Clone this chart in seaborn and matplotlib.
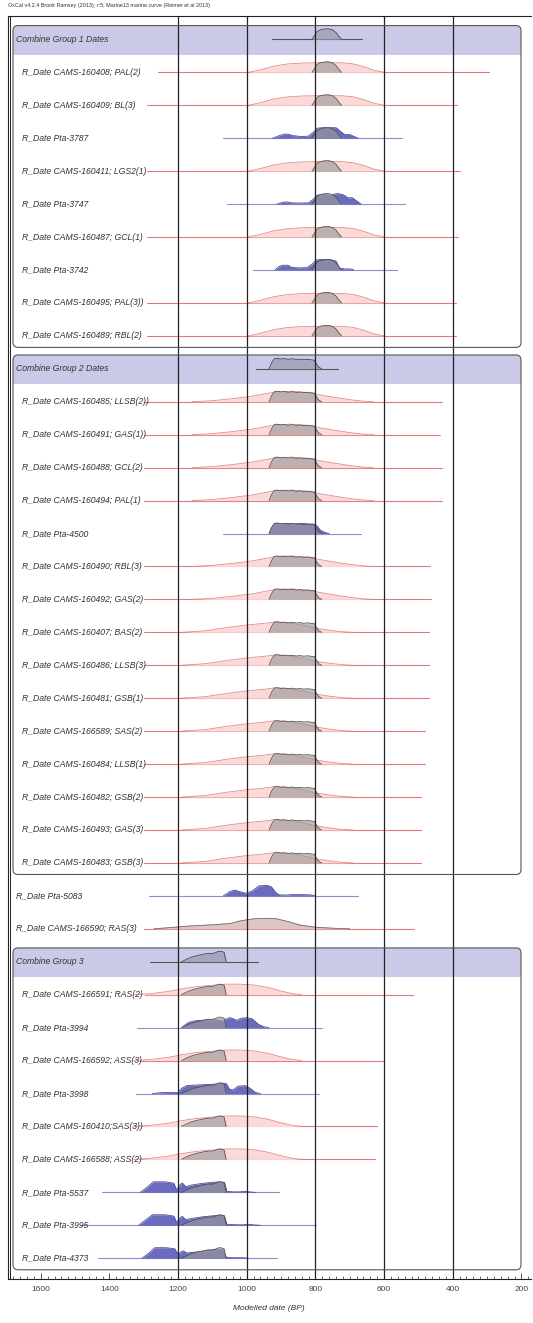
import numpy as np
import matplotlib.pyplot as plt
import seaborn as sns
from matplotlib.patches import FancyBboxPatch, Rectangle
from matplotlib.ticker import MultipleLocator
from matplotlib.transforms import IdentityTransform, blended_transform_factory

# ---- rows of the multiplot (top to bottom) ----
labels = [
    "Combine Group 1 Dates", "R_Date CAMS-160408; PAL(2)", "R_Date CAMS-160409; BL(3)",
    "R_Date Pta-3787", "R_Date CAMS-160411; LGS2(1)", "R_Date Pta-3747",
    "R_Date CAMS-160487; GCL(1)", "R_Date Pta-3742", "R_Date CAMS-160495; PAL(3))",
    "R_Date CAMS-160489; RBL(2)",
    "Combine Group 2 Dates", "R_Date CAMS-160485; LLSB(2))", "R_Date CAMS-160491; GAS(1))",
    "R_Date CAMS-160488; GCL(2)", "R_Date CAMS-160494; PAL(1)", "R_Date Pta-4500",
    "R_Date CAMS-160490; RBL(3)", "R_Date CAMS-160492; GAS(2)", "R_Date CAMS-160407; BAS(2)",
    "R_Date CAMS-160486; LLSB(3)", "R_Date CAMS-160481; GSB(1)", "R_Date CAMS-166589; SAS(2)",
    "R_Date CAMS-160484; LLSB(1)", "R_Date CAMS-160482; GSB(2)", "R_Date CAMS-160493; GAS(3)",
    "R_Date CAMS-160483; GSB(3)",
    "R_Date Pta-5083", "R_Date CAMS-166590; RAS(3)",
    "Combine Group 3", "R_Date CAMS-166591; RAS(2)", "R_Date Pta-3994",
    "R_Date CAMS-166592; ASS(3)", "R_Date Pta-3998", "R_Date CAMS-160410;SAS(3))",
    "R_Date CAMS-166588; ASS(2)", "R_Date Pta-5537", "R_Date Pta-3995", "R_Date Pta-4373",
]
kinds = (["combine"] + ["marine", "marine", "terr", "marine", "terr", "marine", "terr", "marine", "marine"]
         + ["combine"] + ["marine"] * 4 + ["terr"] + ["marine"] * 10
         + ["terr", "marine"]
         + ["combine", "marine", "terr", "marine", "terr", "marine", "marine", "terr", "terr", "terr"])
likelihood = ([None, "m1", "m1", "pta3787", "m1", "pta3747", "m1", "pta3742", "m1", "m1"]
              + [None] + ["m2"] * 4 + ["pta4500"] + ["m2"] * 2 + ["m2b"] * 8
              + ["pta5083", "wide"]
              + [None, "m3", "pta3994", "m3", "pta3998", "m3", "m3", "pta5537", "pta3995", "pta4373"])
posterior = ["g1"] * 10 + ["g2"] * 16 + [None, "wide"] + ["g3"] * 10
range_start = [926, 1259, 1291, 1069, 1290, 1059, 1290, 981, 1290, 1290,
               972, 1300, 1300, 1300, 1300, 1069, 1300, 1300, 1300, 1300, 1300, 1300, 1300, 1300, 1300, 1300,
               1284, 1300,
               1281, 1297, 1319, 1310, 1324, 1310, 1310, 1423, 1486, 1434]
range_end = [664, 293, 389, 548, 380, 538, 385, 562, 390, 390,
             735, 432, 436, 432, 432, 668, 465, 462, 470, 470, 470, 481, 481, 491, 491, 491,
             676, 514,
             967, 517, 781, 602, 790, 621, 626, 906, 797, 913]
group_first = [0, 10, 28]
group_last = [9, 25, 37]

# ---- distribution outlines (date BP, relative density) ----
g1_dates = [810, 803, 795, 786, 775, 762, 750, 740, 732, 724]
g1_dens = [0, 0.35, 0.75, 0.9, 0.98, 1.0, 0.9, 0.65, 0.3, 0]
g2_dates = [935, 928, 920, 912, 900, 890, 880, 868, 855, 845, 835, 822, 812, 803, 797, 790, 782]
g2_dens = [0, 0.55, 0.95, 1.0, 0.93, 0.97, 0.9, 0.95, 0.88, 0.92, 0.86, 0.9, 0.85, 0.82, 0.45, 0.15, 0]
g3_dates = [1190, 1175, 1160, 1140, 1120, 1110, 1100, 1090, 1082, 1074, 1066, 1060]
g3_dens = [0, 0.25, 0.45, 0.62, 0.75, 0.8, 0.78, 0.88, 1.0, 0.98, 0.9, 0]
m1_dates = [995, 960, 920, 880, 840, 780, 720, 690, 660, 630, 600]
m1_dens = [0, 0.25, 0.6, 0.8, 0.88, 0.92, 0.9, 0.8, 0.55, 0.2, 0]
m2_dates = [1160, 1100, 1040, 980, 940, 910, 870, 830, 795, 750, 700, 660, 630]
m2_dens = [0, 0.1, 0.3, 0.55, 0.8, 0.95, 1.0, 0.9, 0.7, 0.45, 0.2, 0.05, 0]
m2b_dates = [1190, 1120, 1060, 1000, 950, 915, 880, 840, 800, 760, 720, 690]
m2b_dens = [0, 0.15, 0.45, 0.7, 0.85, 1.0, 0.9, 0.7, 0.4, 0.2, 0.05, 0]
m3_dates = [1330, 1280, 1230, 1190, 1150, 1100, 1060, 1020, 980, 940, 900, 870, 840]
m3_dens = [0, 0.1, 0.3, 0.55, 0.75, 0.9, 1.0, 1.0, 0.92, 0.7, 0.35, 0.12, 0]
wide_dates = [1270, 1220, 1174, 1100, 1048, 1019, 980, 940, 913, 882, 844, 800, 747, 700]
wide_dens = [0, 0.12, 0.25, 0.38, 0.5, 0.75, 0.95, 1.0, 0.95, 0.7, 0.35, 0.15, 0.05, 0]
pta3787_dates = [925, 905, 890, 880, 865, 840, 820, 805, 795, 780, 740, 725, 715, 700, 690, 675]
pta3787_dens = [0, 0.25, 0.4, 0.38, 0.25, 0.15, 0.2, 0.6, 0.95, 1.0, 1.0, 0.6, 0.35, 0.35, 0.2, 0]
pta3747_dates = [912, 895, 882, 870, 850, 820, 805, 795, 770, 752, 745, 735, 720, 705, 692, 680, 667]
pta3747_dens = [0, 0.18, 0.2, 0.12, 0.1, 0.12, 0.5, 0.85, 0.9, 0.8, 0.95, 1.0, 0.9, 0.6, 0.6, 0.3, 0]
pta3742_dates = [918, 905, 895, 880, 870, 850, 825, 808, 798, 780, 760, 740, 730, 715, 700, 688]
pta3742_dens = [0, 0.35, 0.45, 0.45, 0.25, 0.2, 0.22, 0.6, 0.95, 1.0, 1.0, 0.85, 0.2, 0.1, 0.1, 0]
pta4500_dates = [935, 925, 915, 900, 880, 860, 840, 820, 805, 795, 785, 772, 760]
pta4500_dens = [0, 0.7, 0.95, 0.9, 0.95, 0.92, 0.97, 0.9, 0.9, 0.7, 0.3, 0.1, 0]
pta5083_dates = [1068, 1050, 1036, 1020, 1003, 985, 965, 940, 928, 915, 905, 880, 870, 840, 815, 800]
pta5083_dens = [0, 0.4, 0.55, 0.4, 0.25, 0.45, 0.95, 1.0, 0.85, 0.3, 0.1, 0.08, 0.12, 0.12, 0.1, 0]
pta3994_dates = [1190, 1170, 1150, 1120, 1090, 1070, 1062, 1050, 1040, 1030, 1015, 1000, 985, 965, 950, 935]
pta3994_dens = [0, 0.5, 0.65, 0.72, 0.75, 0.6, 0.8, 0.95, 0.85, 0.7, 0.9, 0.95, 0.85, 0.3, 0.08, 0]
pta3998_dates = [1275, 1250, 1220, 1200, 1190, 1175, 1150, 1120, 1090, 1075, 1060, 1050, 1040, 1025, 1005, 990, 975, 960]
pta3998_dens = [0, 0.08, 0.1, 0.1, 0.5, 0.75, 0.8, 0.85, 0.9, 1.0, 0.95, 0.4, 0.35, 0.7, 0.75, 0.5, 0.1, 0]
pta5537_dates = [1310, 1290, 1272, 1240, 1225, 1212, 1205, 1195, 1188, 1178, 1160, 1130, 1100, 1080, 1065, 1058, 1040, 1020, 1005, 990, 975]
pta5537_dens = [0, 0.5, 1.0, 1.0, 0.95, 0.85, 0.25, 0.7, 0.9, 0.55, 0.7, 0.85, 0.95, 1.0, 0.95, 0.1, 0.05, 0.05, 0.1, 0.04, 0]
pta3995_dates = [1315, 1295, 1275, 1240, 1225, 1212, 1205, 1195, 1188, 1178, 1160, 1130, 1100, 1080, 1065, 1058, 1030, 1010, 995, 980, 960]
pta3995_dens = [0, 0.5, 1.0, 1.0, 0.95, 0.85, 0.3, 0.7, 0.85, 0.55, 0.65, 0.8, 0.9, 0.95, 0.9, 0.1, 0.05, 0.05, 0.1, 0.04, 0]
pta4373_dates = [1305, 1285, 1268, 1235, 1222, 1210, 1200, 1192, 1185, 1175, 1160, 1130, 1100, 1085, 1070, 1060, 1040, 1010, 995]
pta4373_dens = [0, 0.5, 1.0, 1.0, 0.95, 0.9, 0.4, 0.6, 0.7, 0.5, 0.55, 0.65, 0.8, 0.85, 0.85, 0.1, 0.05, 0.05, 0]

shapes = {
    "g1": (g1_dates, g1_dens), "g2": (g2_dates, g2_dens), "g3": (g3_dates, g3_dens),
    "m1": (m1_dates, m1_dens), "m2": (m2_dates, m2_dens), "m2b": (m2b_dates, m2b_dens),
    "m3": (m3_dates, m3_dens), "wide": (wide_dates, wide_dens),
    "pta3787": (pta3787_dates, pta3787_dens), "pta3747": (pta3747_dates, pta3747_dens),
    "pta3742": (pta3742_dates, pta3742_dens), "pta4500": (pta4500_dates, pta4500_dens),
    "pta5083": (pta5083_dates, pta5083_dens), "pta3994": (pta3994_dates, pta3994_dens),
    "pta3998": (pta3998_dates, pta3998_dens), "pta5537": (pta5537_dates, pta5537_dens),
    "pta3995": (pta3995_dates, pta3995_dens), "pta4373": (pta4373_dates, pta4373_dens),
}
tick_values = [1600, 1400, 1200, 1000, 800, 600, 400, 200]
grid_values = [1200, 1000, 800, 600, 400]

H = 0.32  # peak height in row units

sns.set_theme(style="white")
plt.rcParams['font.family'] = ['Liberation Sans', 'DejaVu Sans']

W, HT = 533, 1323
fig = plt.figure(figsize=(W / 100, HT / 100), dpi=100)
ax = fig.add_axes([7.5 / W, (HT - 1279) / HT, (531 - 7.5) / W, (1279 - 16) / HT])
ax.set_xlim(1697, 172)
ax.set_ylim(37.63, -0.71)

ax.spines["right"].set_visible(False)
for sp in ["left", "top", "bottom"]:
    ax.spines[sp].set_color("#222222")
    ax.spines[sp].set_linewidth(0.8)
ax.plot([0.004, 0.004], [0, 1], transform=ax.transAxes, color="#222222", lw=0.7, clip_on=False)

ax.set_xticks(tick_values)
ax.set_xticklabels([str(t) for t in tick_values], fontsize=6, color="#444444")
ax.xaxis.set_minor_locator(MultipleLocator(20))
ax.tick_params(axis="x", which="major", direction="in", length=4, width=0.6, color="#333333", pad=5, bottom=True)
ax.tick_params(axis="x", which="minor", direction="in", length=2, width=0.5, color="#333333", bottom=True)
ax.set_yticks([])
ax.set_xlabel("Modelled date (BP)", fontsize=6, style="italic", color="#333333", labelpad=9)

for g in grid_values:
    ax.axvline(g, color="#222222", lw=0.9, zorder=6)

fig.text(8 / W, 1 - 5.5 / HT, "OxCal v4.2.4 Bronk Ramsey (2013); r:5; Marine13 marine curve (Reimer et al 2013)",
         fontsize=3.9, color="#333333", va="center", ha="left")

# group boxes in pixel space (rounded corners), drawn inside the axes
fig.canvas.draw()
box_x0, box_x1 = 13, 521
for first, last in zip(group_first, group_last):
    top = ax.transData.transform((1000, first - 0.42))[1]
    band_bot = ax.transData.transform((1000, first + 0.46))[1]
    bottom = ax.transData.transform((1000, last + 0.35))[1]
    ax.add_patch(FancyBboxPatch((box_x0, band_bot), box_x1 - box_x0, top - band_bot,
                                boxstyle="round,pad=0,rounding_size=5", transform=IdentityTransform(),
                                facecolor="#cacae8", edgecolor="none", zorder=1, clip_on=False))
    ax.add_patch(Rectangle((box_x0, band_bot), box_x1 - box_x0, (top - band_bot) / 2,
                           transform=IdentityTransform(), facecolor="#cacae8", edgecolor="none",
                           zorder=1, clip_on=False))
    ax.add_patch(FancyBboxPatch((box_x0, bottom), box_x1 - box_x0, top - bottom,
                                boxstyle="round,pad=0,rounding_size=5", transform=IdentityTransform(),
                                facecolor="none", edgecolor="#555555", lw=0.8, zorder=7, clip_on=False))


def draw(y, key, face, edge, z, alpha=1.0, lw=0.6):
    dates, dens = shapes[key]
    top = y - np.asarray(dens) * H
    ax.fill_between(dates, y, top, color=face, lw=0, alpha=alpha, zorder=z)
    ax.plot(dates, top, color=edge, lw=lw, zorder=z + 0.1)


line_colors = {"marine": "#e07a7a", "terr": "#8e8ed0", "combine": "#555555"}
in_group = set()
for first, last in zip(group_first, group_last):
    in_group.update(range(first + 1, last + 1))

trans = blended_transform_factory(ax.transAxes, ax.transData)
for i, lab in enumerate(labels):
    kind = kinds[i]
    ax.plot([range_start[i], range_end[i]], [i, i], color=line_colors[kind], lw=0.8, zorder=2)
    if likelihood[i] is not None:
        if kind == "marine":
            draw(i, likelihood[i], "#fbd9d9", "#e58a8a", 2.5)
        else:
            draw(i, likelihood[i], "#6b6bbd", "#4b4b9b", 2.5)
    if posterior[i] is not None:
        if kind == "combine":
            draw(i, posterior[i], "#9a9ab2", "#444444", 3, alpha=0.75)
        elif posterior[i] == "wide":
            draw(i, posterior[i], "#9a9a9a", "#777777", 3, alpha=0.3)
        else:
            draw(i, posterior[i], "#9a9a9a", "#555555", 3, alpha=0.65)
    xpx = 22 if i in in_group else 16
    ax.text((xpx - 7.5) / 523.5, i, lab, transform=trans, fontsize=6.2, style="italic",
            color="#333333", va="center", ha="left", zorder=8)

fig.savefig("out.png", dpi=100, facecolor="white")
